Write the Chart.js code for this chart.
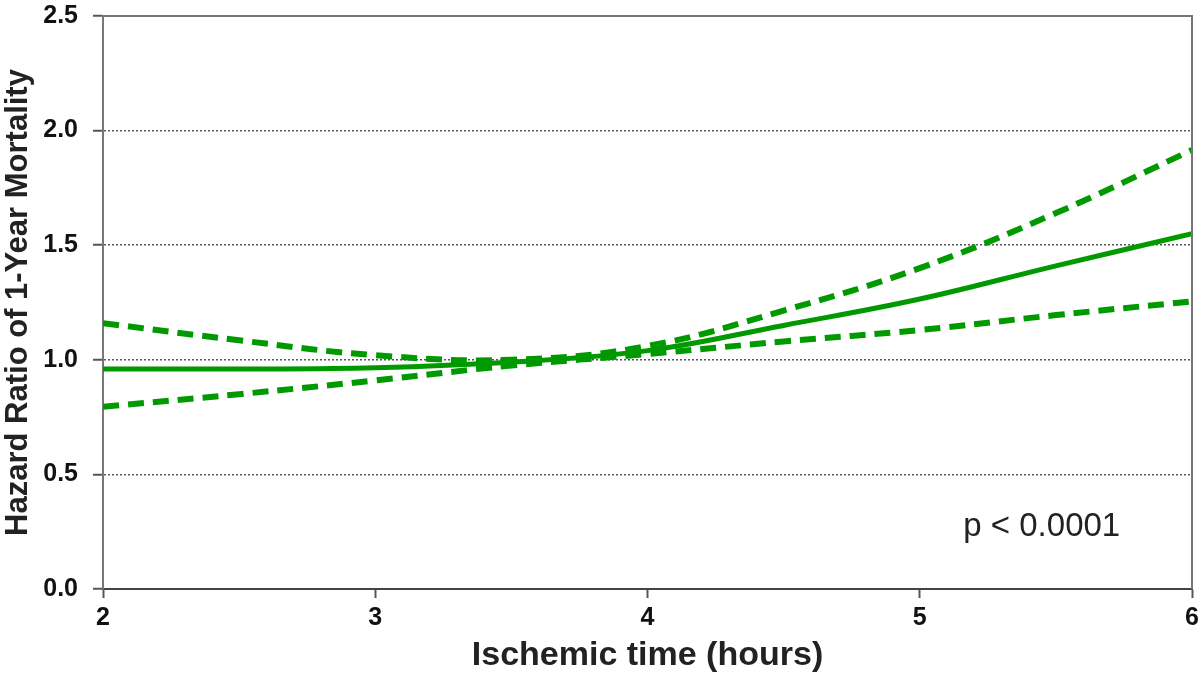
<!DOCTYPE html>
<html>
<head>
<meta charset="utf-8">
<script src="https://cdn.jsdelivr.net/npm/chart.js@4"></script>
<style>
  html, body { margin: 0; padding: 0; background: #fff; }
  #wrap { width: 1200px; height: 678px; }
</style>
</head>
<body>
<div id="wrap"><canvas id="hr-chart" width="1200" height="678"></canvas></div>
<script>
// ischemic time in hours
const hours = [2, 2.5, 3, 3.5, 4, 4.5, 5, 5.5, 6];
// hazard ratio estimate and confidence bounds
const hrEstimate = [0.96, 0.96, 0.965, 0.99, 1.04, 1.15, 1.265, 1.41, 1.55];
const hrUpper = [1.16, 1.085, 1.02, 1.0, 1.06, 1.215, 1.40, 1.64, 1.915];
const hrLower = [0.795, 0.85, 0.91, 0.975, 1.025, 1.08, 1.13, 1.195, 1.255];
const yTicks = [0, 0.5, 1.0, 1.5, 2.0, 2.5];
const xTicks = [2, 3, 4, 5, 6];
const pValueText = 'p < 0.0001';

const green = '#009a00';
const fontFam = '"Liberation Sans", Arial, sans-serif';
const toPoints = (vals) => hours.map((h, i) => ({ x: h, y: vals[i] }));

// frame round the plot + p-value note
const framePlugin = {
  id: 'frame',
  afterDraw(chart) {
    const { ctx, chartArea: a, scales } = chart;
    ctx.save();
    ctx.strokeStyle = '#777';
    ctx.lineWidth = 2;
    ctx.beginPath();
    ctx.moveTo(a.left, a.top);
    ctx.lineTo(a.right, a.top);
    ctx.lineTo(a.right, a.bottom);
    ctx.stroke();
    ctx.fillStyle = '#222';
    ctx.font = '33px ' + fontFam;
    ctx.textAlign = 'left';
    ctx.textBaseline = 'middle';
    ctx.fillText(pValueText, scales.x.getPixelForValue(5.16), scales.y.getPixelForValue(0.27));
    ctx.restore();
  }
};

const ctx = document.getElementById('hr-chart').getContext('2d');
const hrChart = new Chart(ctx, {
  type: 'line',
  data: {
    datasets: [
      {
        label: 'Upper 95% CI',
        data: toPoints(hrUpper),
        borderColor: green,
        borderWidth: 6,
        borderDash: [16, 9],
        pointRadius: 0,
        tension: 0.4
      },
      {
        label: 'Hazard ratio',
        data: toPoints(hrEstimate),
        borderColor: green,
        borderWidth: 5,
        pointRadius: 0,
        tension: 0.4
      },
      {
        label: 'Lower 95% CI',
        data: toPoints(hrLower),
        borderColor: green,
        borderWidth: 6,
        borderDash: [16, 9],
        pointRadius: 0,
        tension: 0.4
      }
    ]
  },
  options: {
    responsive: false,
    animation: false,
    layout: { padding: { top: 16, right: 8, left: 0, bottom: 0 } },
    plugins: {
      legend: { display: false },
      tooltip: { enabled: false }
    },
    scales: {
      x: {
        type: 'linear',
        min: 2,
        max: 6,
        afterBuildTicks(scale) {
          scale.ticks = xTicks.map(v => ({ value: v }));
        },
        afterFit(scale) {
          scale.height = 89;
          scale.paddingLeft = 0;
          scale.paddingRight = 0;
        },
        grid: {
          drawOnChartArea: false,
          drawTicks: true,
          tickLength: 9,
          tickColor: '#555',
          tickWidth: 2
        },
        border: { display: true, color: '#444', width: 2 },
        ticks: {
          color: '#111',
          padding: 5,
          font: { family: fontFam, size: 25, weight: 'bold' },
          callback: (v) => String(v)
        },
        title: {
          display: true,
          text: 'Ischemic time (hours)',
          color: '#222',
          padding: { top: 0, bottom: 2 },
          font: { family: fontFam, size: 34, weight: 'bold' }
        }
      },
      y: {
        min: 0,
        max: 2.5,
        afterBuildTicks(scale) {
          scale.ticks = yTicks.map(v => ({ value: v }));
        },
        afterFit(scale) {
          scale.width = 103;
          scale.paddingTop = 0;
          scale.paddingBottom = 0;
        },
        grid: {
          color: (c) => (c.tick && (c.tick.value === 0 || c.tick.value === 2.5)) ? 'rgba(0,0,0,0)' : '#555',
          lineWidth: 1.5,
          tickColor: '#555',
          tickLength: 10,
          tickWidth: 2
        },
        border: { display: true, color: '#777', width: 2, dash: [2, 2] },
        ticks: {
          color: '#111',
          padding: 15,
          font: { family: fontFam, size: 25, weight: 'bold' },
          callback: (v) => Number(v).toFixed(1)
        },
        title: {
          display: true,
          text: 'Hazard Ratio of 1-Year Mortality',
          color: '#222',
          padding: { top: 0, bottom: 4 },
          font: { family: fontFam, size: 31, weight: 'bold' }
        }
      }
    }
  },
  plugins: [framePlugin]
});
</script>
</body>
</html>
